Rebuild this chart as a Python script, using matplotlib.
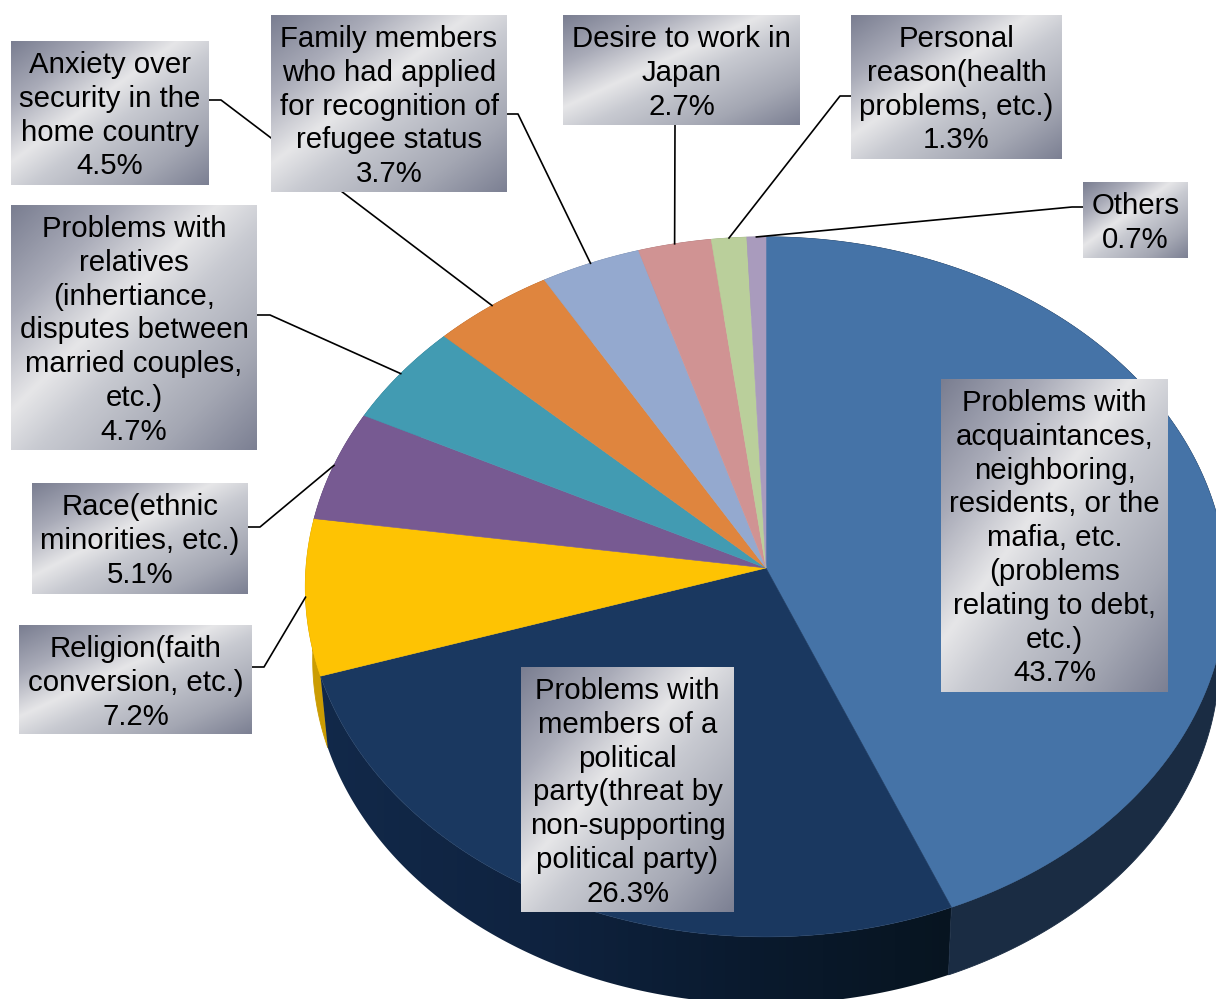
import numpy as np
import matplotlib
matplotlib.use("Agg")
import matplotlib.pyplot as plt
from matplotlib.colors import LinearSegmentedColormap, to_rgb
from matplotlib.patches import Polygon

# Reasons, clockwise from twelve o'clock
categories = [
    "Problems with\nacquaintances,\nneighboring,\nresidents, or the\nmafia, etc.\n(problems\nrelating to debt,\netc.)",
    "Problems with\nmembers of a\npolitical\nparty(threat by\nnon-supporting\npolitical party)",
    "Religion(faith\nconversion, etc.)",
    "Race(ethnic\nminorities, etc.)",
    "Problems with\nrelatives\n(inhertiance,\ndisputes between\nmarried couples,\netc.)",
    "Anxiety over\nsecurity in the\nhome country",
    "Family members\nwho had applied\nfor recognition of\nrefugee status",
    "Desire to work in\nJapan",
    "Personal\nreason(health\nproblems, etc.)",
    "Others",
]
shares = [43.7, 26.3, 7.2, 5.1, 4.7, 4.5, 3.7, 2.7, 1.3, 0.7]
top_colors = ["#4573A7", "#1A3860", "#FEC303", "#775A92", "#429BB2",
              "#DF853E", "#94A9CF", "#D09393", "#BACF9B", "#A99BBD"]

# Label boxes in figure pixels: left, top, right, bottom
boxes = [(941, 379, 1168, 692), (521, 667, 734, 912), (19, 625, 252, 734),
         (32, 483, 248, 594), (11, 205, 257, 450), (11, 41, 209, 185),
         (271, 15, 507, 192), (563, 15, 800, 125), (851, 15, 1062, 159),
         (1083, 182, 1188, 258)]
# Leader line starts (box side, elbow); None for labels sitting on their slice
leaders = [None, None,
           [(252, 667), (264, 667)], [(248, 527), (260, 527)],
           [(257, 315), (270, 315)], [(209, 100), (221, 100)],
           [(507, 114), (518, 114)], [(675, 125)],
           [(851, 96), (840, 96)], [(1083, 207), (1072, 207)]]

# Pie projection
CX, CY = 766.0, 568.0
RX, RY = 460.0, 349.0
PERSP = 0.054
BASE_SCALE = 0.984
DEPTH = 73.0


def rim(theta, scale=1.0, drop=0.0):
    """Project clockwise-from-top angles (radians) onto the tilted disc."""
    u, v = np.sin(theta), -np.cos(theta)
    w = 1.0 - PERSP * v
    return CX + scale * RX * u / w, CY + drop + scale * RY * v / w


fig = plt.figure(figsize=(12.16, 9.99), dpi=100, facecolor="white")
ax = fig.add_axes([0, 0, 1, 1])
ax.set_xlim(0, 1216)
ax.set_ylim(999, 0)
ax.axis("off")

values = np.array(shares, dtype=float)
edges = np.concatenate([[0.0], np.cumsum(values)]) / values.sum() * 2 * np.pi

# Outer wall; the navy slice fades darker towards the right
navy_side = LinearSegmentedColormap.from_list(
    "navy_side", ["#12294A", "#0F2340", "#0A1A2E", "#07141F"])
for i, (a0, a1) in enumerate(zip(edges[:-1], edges[1:])):
    th = np.linspace(a0, a1, max(12, int((a1 - a0) * 200)))
    xt, yt = rim(th)
    xb, yb = rim(th[::-1], BASE_SCALE, DEPTH)
    outline = np.column_stack([np.r_[xt, xb], np.r_[yt, yb]])
    if i == 1:
        wall = Polygon(outline, closed=True, facecolor="none", edgecolor="none")
        ax.add_patch(wall)
        ramp_x = np.linspace(0, 1, 256)[None, :]
        img = ax.imshow(ramp_x, cmap=navy_side, extent=(310, 970, 1010, 640),
                        origin="upper", aspect="auto", zorder=1)
        img.set_clip_path(wall)
    else:
        shade = "#1A2C43" if i == 0 else tuple(np.array(to_rgb(top_colors[i])) * 0.8)
        ax.add_patch(Polygon(outline, closed=True, facecolor=shade,
                             edgecolor=shade, lw=0.6, zorder=1.2 if i == 0 else 0.8))

# Top face
for i, (a0, a1) in enumerate(zip(edges[:-1], edges[1:])):
    th = np.linspace(a0, a1, max(12, int((a1 - a0) * 200)))
    xs, ys = rim(th)
    ax.fill(np.r_[CX, xs], np.r_[CY, ys], color=top_colors[i], lw=0.4, zorder=2)

# Leader lines run from each box to the rim at the slice's mid-angle
mids = (edges[:-1] + edges[1:]) / 2
for lead, mid in zip(leaders, mids):
    if lead is None:
        continue
    ex, ey = rim(mid)
    xs = [p[0] for p in lead] + [ex]
    ys = [p[1] for p in lead] + [ey]
    ax.plot(xs, ys, color="black", lw=1.2, solid_joinstyle="round", zorder=3)

# Brushed-metal label fill
metal = LinearSegmentedColormap.from_list(
    "metal", [(0.0, "#7A7E91"), (0.22, "#A9ABB8"), (0.42, "#E6E6E8"),
              (0.55, "#C8CAD1"), (0.8, "#A4A7B3"), (1.0, "#7C8093")])
grid_u, grid_v = np.meshgrid(np.linspace(0, 1, 200), np.linspace(0, 1, 200))
ramp = (grid_u + grid_v) / 2

LINE_STEP = 33.8
for label, value, (x0, y0, x1, y1) in zip(categories, shares, boxes):
    ax.imshow(ramp, cmap=metal, vmin=0, vmax=1, extent=(x0, x1, y1, y0),
              origin="upper", aspect="auto", interpolation="bilinear", zorder=4)
    lines = label.split("\n") + [f"{value:.1f}%"]
    xc = (x0 + x1) / 2
    for k, line in enumerate(lines):
        ax.text(xc, y0 + 32 + k * LINE_STEP, line, ha="center", va="baseline",
                fontsize=21.2, family="Liberation Sans", color="black", zorder=5)

ax.set_xlim(0, 1216)
ax.set_ylim(999, 0)
fig.savefig("out.png", dpi=100, facecolor="white")
